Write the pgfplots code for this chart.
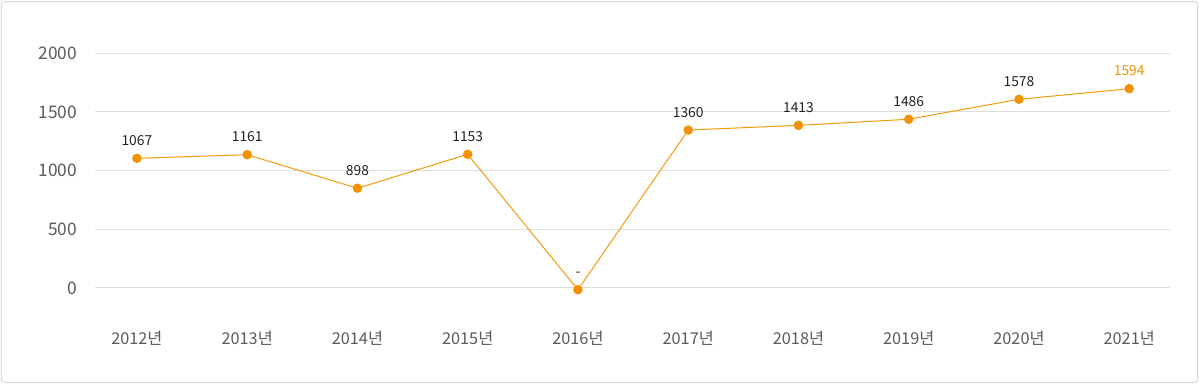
\documentclass[border=0pt]{standalone}
\usepackage{pgfplots}
\pgfplotsset{compat=1.18}
\usepackage{fontspec}
\setmainfont{Noto Sans CJK KR}
\definecolor{lineor}{HTML}{F59A0A}
\definecolor{markor}{HTML}{F39200}
\definecolor{gridc}{HTML}{DDDDDD}
\definecolor{tickc}{HTML}{5A5A5A}
\definecolor{labc}{HTML}{222222}
\definecolor{borderc}{HTML}{DADADA}
\begin{document}
\begin{tikzpicture}[x=1bp,y=1bp]
\useasboundingbox (0,0) rectangle (1200,-384);
\draw[borderc, line width=1bp, rounded corners=3bp] (1.5,-1.5) rectangle (1197.5,-382.5);
\begin{axis}[
  at={(95bp,-317.3bp)}, anchor=south west,
  scale only axis, width=1075bp, height=264bp,
  xmin=-0.38, xmax=9.37, ymin=-250, ymax=2000,
  axis line style={draw=none},
  ytick={0,500,1000,1500,2000},
  xtick={0,...,9},
  xticklabels={2012년,2013년,2014년,2015년,2016년,2017년,2018년,2019년,2020년,2021년},
  ymajorgrids, grid style={gridc, line width=1bp},
  major tick length=0pt,
  /pgf/number format/assume math mode=true,
  /pgf/number format/1000 sep={},
  yticklabel style={font=\fontsize{17.3bp}{19bp}\selectfont, text=tickc, anchor=east, xshift=-14.5bp},
  xticklabel style={font=\fontsize{16.3bp}{18bp}\selectfont, text=tickc, anchor=base, yshift=-27.5bp},
  clip=false,
]
\addplot[lineor, line width=1bp, mark=*, mark size=4.2bp,
  mark options={fill=markor, draw=markor},
  point meta=explicit symbolic,
  nodes near coords,
  every node near coord/.append style={font=\fontsize{13.8bp}{15bp}\selectfont, text=labc, anchor=base, yshift=13bp},
] coordinates {
  (0,1105) [1067]
  (1,1136) [1161]
  (2,850) [898]
  (3,1139) [1153]
  (4,-15) [-]
  (5,1346) [1360]
  (6,1386) [1413]
  (7,1438) [1486]
  (8,1608) [1578]
  (9,1698) [{\textcolor{markor}{1594}}]
};
\end{axis}
\end{tikzpicture}
\end{document}
